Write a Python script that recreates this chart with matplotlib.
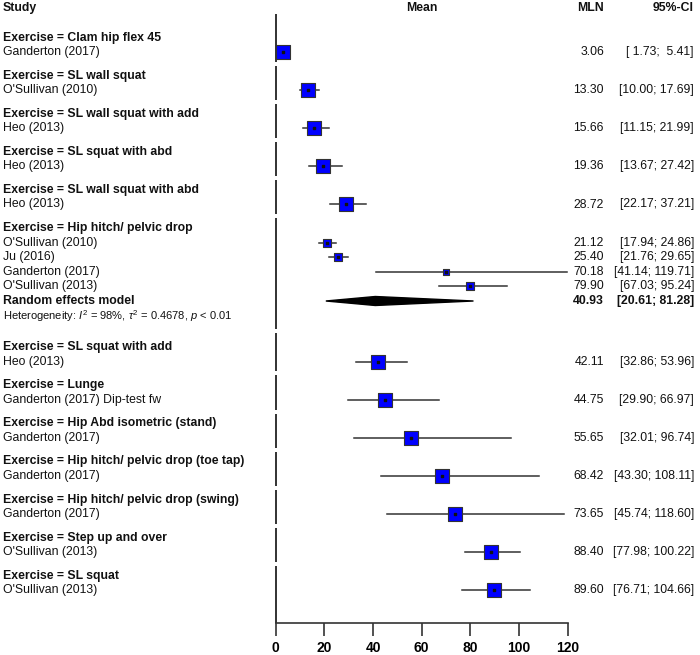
import matplotlib
matplotlib.use("Agg")
import matplotlib.pyplot as plt
import matplotlib.transforms as mtransforms
import numpy as np

plt.rcParams['font.family'] = ['Liberation Sans', 'DejaVu Sans']
plt.rcParams['mathtext.fontset'] = 'custom'
plt.rcParams['mathtext.rm'] = 'Liberation Sans'
plt.rcParams['mathtext.it'] = 'Liberation Sans:italic'

# data
groups = ['Clam hip flex 45', 'SL wall squat', 'SL wall squat with add',
          'SL squat with abd', 'SL wall squat with abd', 'Hip hitch/ pelvic drop',
          'SL squat with add', 'Lunge', 'Hip Abd isometric (stand)',
          'Hip hitch/ pelvic drop (toe tap)', 'Hip hitch/ pelvic drop (swing)',
          'Step up and over', 'SL squat']
study_group = [0, 1, 2, 3, 4, 5, 5, 5, 5, 6, 7, 8, 9, 10, 11, 12]
study_names = ['Ganderton (2017)', "O'Sullivan (2010)", 'Heo (2013)', 'Heo (2013)',
               'Heo (2013)', "O'Sullivan (2010)", 'Ju (2016)', 'Ganderton (2017)',
               "O'Sullivan (2013)", 'Heo (2013)', 'Ganderton (2017) Dip-test fw',
               'Ganderton (2017)', 'Ganderton (2017)', 'Ganderton (2017)',
               "O'Sullivan (2013)", "O'Sullivan (2013)"]
mln = [3.06, 13.30, 15.66, 19.36, 28.72, 21.12, 25.40, 70.18, 79.90,
       42.11, 44.75, 55.65, 68.42, 73.65, 88.40, 89.60]
ci_low = [1.73, 10.00, 11.15, 13.67, 22.17, 17.94, 21.76, 41.14, 67.03,
          32.86, 29.90, 32.01, 43.30, 45.74, 77.98, 76.71]
ci_high = [5.41, 17.69, 21.99, 27.42, 37.21, 24.86, 29.65, 119.71, 95.24,
           53.96, 66.97, 96.74, 108.11, 118.60, 100.22, 104.66]
weights = [100, 100, 100, 100, 100, 25.3, 25.4, 23.6, 25.7,
           100, 100, 100, 100, 100, 100, 100]

pooled_group = 5
pooled = (40.93, 20.61, 81.28)
heterogeneity = r"Heterogeneity: $I^2$ = 98%, $\tau^2$ = 0.4678, $p$ < 0.01"

# layout (pixel rows from top)
W, H = 700, 655
fig = plt.figure(figsize=(W / 100, H / 100), dpi=100)
x0_px, x120_px, axis_px = 275.7, 567.7, 623
ax = fig.add_axes([x0_px / W, (H - axis_px) / H, (x120_px - x0_px) / W, axis_px / H])
ax.set_xlim(0, 120)
ax.set_ylim(axis_px, 0)

trans = mtransforms.blended_transform_factory(fig.transFigure, ax.transData)
txt = '#111111'
fs = 8.8

step, gap, gap_pooled = 14.6, 23.5, 31.5
y = 37.5
header_y, study_y, group_end = [], [], []
pool_y = het_y = None
for g in range(len(groups)):
    header_y.append(y)
    for i, sg in enumerate(study_group):
        if sg == g:
            y += step
            study_y.append(y)
    if g == pooled_group:
        y += step
        pool_y = y
        y += step
        het_y = y
        group_end.append(y)
        y += gap_pooled
    else:
        group_end.append(y)
        y += gap

# column headers
ax.text(3 / W, 8, 'Study', transform=trans, ha='left', va='center', fontsize=fs, fontweight='bold', color=txt)
ax.text(60, 8, 'Mean', ha='center', va='center', fontsize=fs, fontweight='bold', color=txt)
ax.text(604 / W, 8, 'MLN', transform=trans, ha='right', va='center', fontsize=fs, fontweight='bold', color=txt)
ax.text(694 / W, 8, '95%-CI', transform=trans, ha='right', va='center', fontsize=fs, fontweight='bold', color=txt)

for g, name in enumerate(groups):
    ax.text(3 / W, header_y[g], 'Exercise = ' + name, transform=trans, ha='left',
            va='center', fontsize=fs, fontweight='bold', color=txt)

# reference line at 0, broken between subgroups
tops = [14] + [(group_end[g] + header_y[g + 1]) / 2 + 2 for g in range(len(groups) - 1)]
bottoms = [(group_end[g] + header_y[g + 1]) / 2 - 2 for g in range(len(groups) - 1)] + [axis_px]
for t, b in zip(tops, bottoms):
    ax.plot([0, 0], [t, b], color='#222222', lw=1.3, clip_on=False, solid_capstyle='butt')

full_side = 14
for i in range(len(mln)):
    yy = study_y[i]
    ax.plot([ci_low[i], ci_high[i]], [yy, yy], color='#333333', lw=1.1, zorder=2)
    side = full_side * np.sqrt(weights[i] / 100) * 0.72  # px -> pt
    ax.scatter([mln[i]], [yy], marker='s', s=side ** 2, facecolor='#0000ff',
               edgecolor='#333333', linewidth=0.8, zorder=3, clip_on=False)
    ax.scatter([mln[i]], [yy], marker='s', s=1.2, color='#111111', zorder=4)
    ax.text(3 / W, yy, study_names[i], transform=trans, ha='left', va='center', fontsize=fs, color=txt)
    ax.text(604 / W, yy, f'{mln[i]:.2f}', transform=trans, ha='right', va='center', fontsize=fs, color=txt)
    ax.text(694 / W, yy, f'[{ci_low[i]:5.2f}; {ci_high[i]:5.2f}]', transform=trans,
            ha='right', va='center', fontsize=fs, color=txt)

# pooled random effects diamond
est, lo, hi = pooled
ax.fill([lo, est, hi, est], [pool_y, pool_y - 4.5, pool_y, pool_y + 4.5], color='black', zorder=3)
ax.text(3 / W, pool_y, 'Random effects model', transform=trans, ha='left', va='center',
        fontsize=fs, fontweight='bold', color=txt)
ax.text(604 / W, pool_y, f'{est:.2f}', transform=trans, ha='right', va='center',
        fontsize=fs, fontweight='bold', color=txt)
ax.text(694 / W, pool_y, f'[{lo:5.2f}; {hi:5.2f}]', transform=trans, ha='right', va='center',
        fontsize=fs, fontweight='bold', color=txt)
ax.text(3 / W, het_y, heterogeneity, transform=trans, ha='left', va='center', fontsize=8.0, color=txt)

# axis
for side in ['top', 'right', 'left']:
    ax.spines[side].set_visible(False)
ax.spines['bottom'].set_color('#333333')
ax.spines['bottom'].set_linewidth(1.2)
ax.set_yticks([])
ax.set_xticks(np.arange(0, 121, 20))
ax.tick_params(axis='x', direction='out', length=9, width=1.2, color='#333333',
               labelsize=10, pad=4)
for lab in ax.get_xticklabels():
    lab.set_fontweight('bold')
ax.patch.set_alpha(0)

fig.savefig('out.png', dpi=100)
